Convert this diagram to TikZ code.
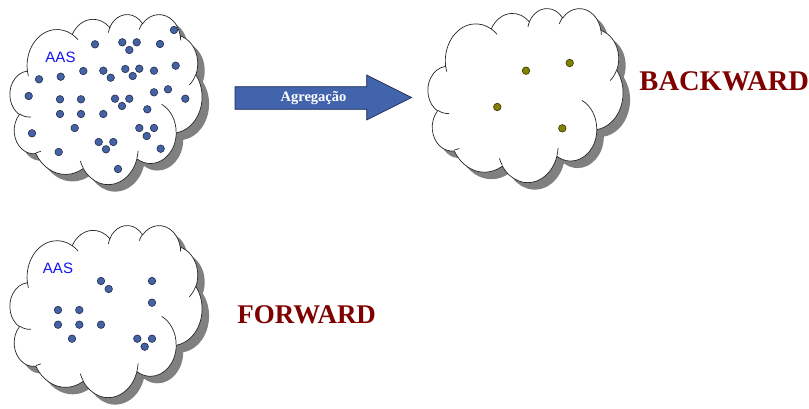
\documentclass[tikz,border=0pt]{standalone}
\usepackage{fontspec}
\setmainfont{Liberation Serif}
\newfontfamily\arialfont{Liberation Sans}

\definecolor{dotblue}{RGB}{68,98,164}
\definecolor{dotblueline}{RGB}{32,44,78}
\definecolor{dotolive}{RGB}{130,130,0}
\definecolor{dotoliveline}{RGB}{48,48,0}
\definecolor{arrowblue}{RGB}{66,100,172}
\definecolor{arrowline}{RGB}{28,40,82}
\definecolor{labelred}{RGB}{128,0,0}
\definecolor{aasblue}{RGB}{20,20,240}
\definecolor{shadowgray}{RGB}{128,128,128}

% parametric angle on an ellipse (radii w,h) for a visual direction a
\pgfmathdeclarefunction{pang}{3}{%
  \pgfmathparse{atan2((#2)*sin(#1),(#3)*cos(#1))}%
  \edef\pangr{\pgfmathresult}%
  \pgfmathparse{\pangr+360*round(((#1)-\pangr)/360)}%
}
% elliptic arc given by radii, start direction and sweep (degrees, clockwise)
\newcommand\carc[4]{arc[x radius=#1, y radius=#2, start angle={pang(#3,#1,#2)}, end angle={pang((#3)+(#4),#1,#2)}]}

% cloud outline on a 43.2 x 43.2 grid
\newcommand\cloudpath{(3.900,14.370)
  \carc{6.753}{9.190}{-190.4875}{123.7805}
  \carc{5.333}{7.267}{-144.1024}{89.9452}
  \carc{4.365}{5.945}{-145.8079}{99.7230}
  \carc{4.857}{6.595}{-130.9861}{117.2417}
  \carc{5.333}{7.273}{-78.7089}{109.0269}
  \carc{6.775}{9.220}{-46.2673}{130.2690}
  \carc{5.785}{7.867}{0.6250}{114.0333}
  \carc{6.752}{9.215}{22.4516}{115.1726}
  \carc{7.720}{10.543}{66.2426}{75.7110}
  \carc{4.360}{5.918}{-274.9421}{146.7356}
  \carc{4.345}{5.945}{-246.8285}{152.5189} -- cycle}

% small inner creases of the cloud
\newcommand\cloudcreases{%
  (4.693,26.177) \carc{4.345}{5.945}{86.7420}{26.4295}
  (6.928,34.899) \carc{4.360}{5.918}{73.6105}{11.4475}
  (16.478,39.090) \carc{6.752}{9.215}{137.6242}{14.0811}
  (28.827,34.751) \carc{6.752}{9.215}{6.4533}{15.9984}
  (34.129,22.954) \carc{5.785}{7.867}{-70.2924}{70.9174}
  (41.798,15.354) \carc{5.333}{7.273}{30.3180}{27.7515}
  (38.324,5.426) \carc{4.857}{6.595}{-13.7443}{14.8589}
  (29.078,3.952) \carc{4.857}{6.595}{-149.1815}{18.1954}
  (22.141,4.720) \carc{4.365}{5.945}{-163.4943}{17.6864}
  (14.000,5.192) \carc{6.753}{9.190}{-66.7070}{12.3194}
  (4.127,15.789) \carc{6.753}{9.190}{157.6544}{11.8582}}

% cloud with drop shadow: left, top, width, height
\newcommand\drawcloud[4]{%
  \begin{scope}[shift={(#1pt,-#2pt)}, x={(#3pt/43.2,0pt)}, y={(0pt,-#4pt/43.2)}]
    \fill[shadowgray, shift={(7pt,-7pt)}] \cloudpath;
    \filldraw[cloudline, fill=white] \cloudpath;
    \draw[cloudline] \cloudcreases;
  \end{scope}}

\tikzset{
  cloudline/.style={draw=black!85, line width=0.7pt},
  bluedot/.style={circle, inner sep=0pt, minimum size=7.5pt, fill=dotblue, draw=dotblueline, line width=0.6pt},
  olivedot/.style={circle, inner sep=0pt, minimum size=7.5pt, fill=dotolive, draw=dotoliveline, line width=0.6pt},
  aas/.style={text=aasblue, font=\arialfont\fontsize{15}{17}\selectfont, inner sep=0pt},
  bigword/.style={text=labelred, font=\bfseries\fontsize{#1}{#1}\selectfont, inner sep=0pt, anchor=base},
  arrowshape/.style={fill=arrowblue, draw=arrowline, line width=0.7pt, line join=miter},
}

\begin{document}
\begin{tikzpicture}[x=1pt, y=-1pt]
  \useasboundingbox[fill=white] (0,0) rectangle (809,409);

  % clouds
  \drawcloud{10}{14}{192}{170}
  \drawcloud{428}{8}{195}{174}
  \drawcloud{10}{225}{192}{172}

  % aggregation arrow
  \draw[arrowshape] (235,86.7) -- (366.7,86.7) -- (366.7,75) -- (411.7,97.5)
    -- (366.7,120) -- (366.7,109.3) -- (235,109.3) -- cycle;
  \node[text=white, font=\bfseries\fontsize{14.5}{16}\selectfont, inner sep=0pt]
    (agg) at (313.5,98.5) {Agregação};

  % many sensor nodes
  \node[aas] (aas1) at (60.5,57) {AAS};
  \foreach \p [count=\i] in {
    {174,30}, {95,44.3}, {122.3,42.3}, {136.7,42.3}, {129.3,50}, {160,44},
    {175.7,65.7}, {83.3,71}, {103.3,70.7}, {110.7,77.7}, {125.3,69},
    {139.3,68.7}, {132.7,76}, {154,70.7}, {39,79.3}, {60.7,76.7}, {28.7,96},
    {60,99.3}, {81,99.3}, {115,98.7}, {129.3,98.7}, {122,106}, {154,92.3},
    {168,89.3}, {185.3,98.7}, {147.3,109.3}, {60,114}, {81,114}, {103.3,114},
    {74.7,128}, {139.3,128}, {154,128}, {146.7,136}, {32,133.3}, {98.7,142},
    {113.3,142}, {106,149.3}, {160.7,148.7}, {58.7,152}, {118,169}}
    \node[bluedot] (a\i) at (\p) {};

  % aggregated nodes
  \foreach \p [count=\i] in {{526,70.7}, {569.7,63}, {497.3,107}, {562.3,128.3}}
    \node[olivedot] (b\i) at (\p) {};
  \node[bigword=28.5] (backward) at (724.2,90.7) {BACKWARD};

  % forward set
  \node[aas] (aas2) at (58,268.3) {AAS};
  \foreach \p [count=\i] in {
    {101,281}, {108.7,289}, {152,281}, {152,302.7}, {58,310}, {79.3,310},
    {58,324.7}, {79.3,324.7}, {101,324.7}, {72,338.7}, {137.3,338.7},
    {152,338.7}, {144.7,346.7}}
    \node[bluedot] (c\i) at (\p) {};
  \node[bigword=27] (forward) at (306.7,323.3) {FORWARD};
\end{tikzpicture}
\end{document}
